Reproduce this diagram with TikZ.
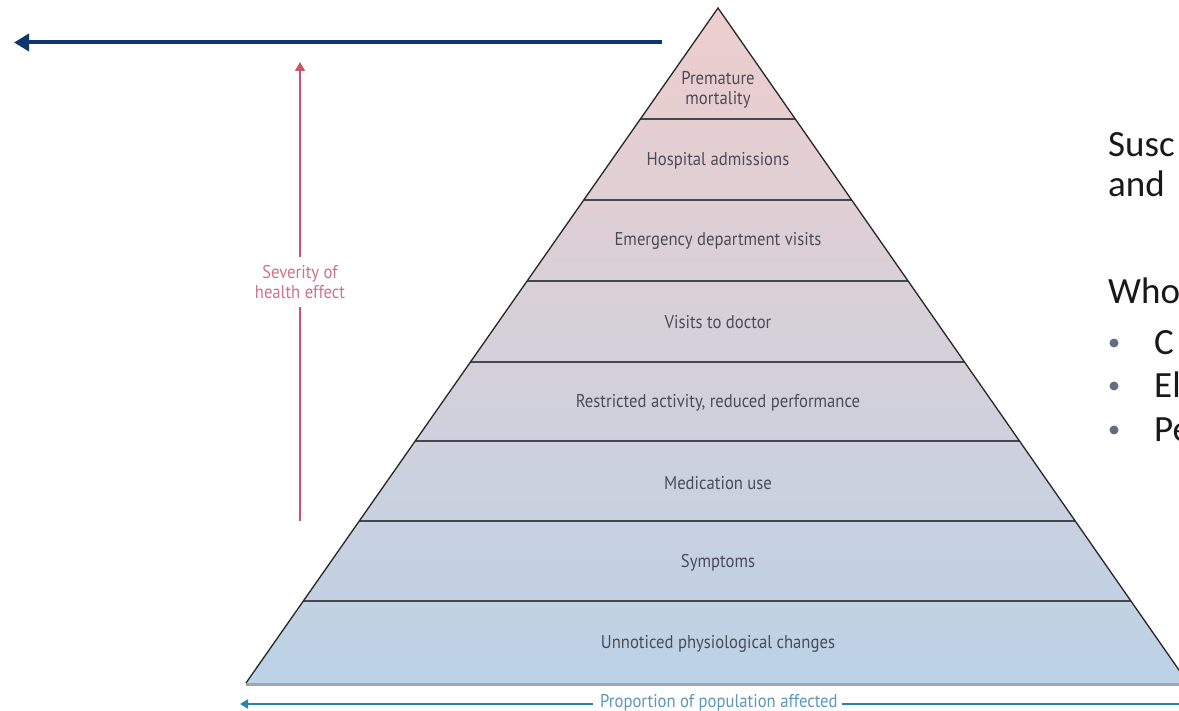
\documentclass[tikz,border=0pt]{standalone}
\usepackage{fontspec}
\setmainfont{Carlito}
\newfontfamily\dinfont[FakeStretch=0.9]{PT Sans}
\usetikzlibrary{arrows.meta,calc}
\definecolor{navyC}{RGB}{12,55,112}
\definecolor{sevC}{RGB}{200,85,105}
\definecolor{sevT}{RGB}{205,115,135}
\definecolor{propC}{RGB}{45,130,172}
\definecolor{propT}{RGB}{95,150,185}
\definecolor{pyrT}{RGB}{75,75,88}
\definecolor{topP}{RGB}{238,206,205}
\definecolor{midP}{RGB}{217,215,225}
\definecolor{botP}{RGB}{188,210,230}
\definecolor{bulC}{RGB}{100,110,130}
\definecolor{shadowC}{RGB}{165,165,172}
\definecolor{divC}{RGB}{70,70,78}
\definecolor{rtC}{RGB}{25,25,25}
\tikzset{
  lvl/.style={font=\dinfont\fontsize{18.5}{20}\selectfont, text=pyrT, align=center, inner sep=0pt},
  divider/.style={draw=divC, line width=2pt},
  edge/.style={draw=black!85, line width=1.3pt},
  rtext/.style={font=\fontsize{37}{40}\selectfont, text=rtC, anchor=base west, inner sep=0pt},
  navyarrow/.style={draw=navyC, line width=4pt, -{Triangle[length=15pt,width=17pt]}},
  sevarrow/.style={draw=sevC, line width=1.6pt, -{Triangle[length=9pt,width=10pt]}},
  sevline/.style={draw=sevC, line width=1.6pt},
  proparrow/.style={draw=propC, line width=2.6pt, -{Triangle[length=8pt,width=9pt]}},
  propline/.style={draw=propC, line width=2.6pt},
}
\begin{document}
\begin{tikzpicture}[x=1pt,y=-1pt]
\path[use as bounding box] (0,0) rectangle (1179,711);
\clip (0,0) rectangle (1179,711);
\fill[white] (0,0) rectangle (1179,711);

% pyramid
\coordinate (A) at (718,8);
\coordinate (BL) at (246,683);
\coordinate (BR) at (1188,683);
\shade[top color=topP, middle color=midP, bottom color=botP] (A) -- (BL) -- (BR) -- cycle;
\coordinate (BLs) at ($(BL)+(0,1.5)$);
\coordinate (BRs) at ($(BR)+(0,1.5)$);
\draw[shadowC, line width=3pt] (BLs) -- (BRs);
\foreach \t [count=\i] in {0.1644,0.2844,0.4044,0.5244,0.6415,0.7600,0.8785}{
  \coordinate (dl\i) at ($(A)!\t!(BL)$);
  \coordinate (dr\i) at ($(A)!\t!(BR)$);
  \draw[divider] (dl\i) -- (dr\i);
}
\draw[edge, line join=miter] (BL) -- (A) -- (BR);

% level labels
\node[lvl] (l1) at (718,90) {Premature\\mortality};
\node[lvl] (l2) at (718,161) {Hospital admissions};
\node[lvl] (l3) at (718,241) {Emergency department visits};
\node[lvl] (l4) at (718,322) {Visits to doctor};
\node[lvl] (l5) at (718,403) {Restricted activity, reduced performance};
\node[lvl] (l6) at (718,483) {Medication use};
\node[lvl] (l7) at (718,563) {Symptoms};
\node[lvl] (l8) at (718,644) {Unnoticed physiological changes};

% navy arrow
\coordinate (navyS) at (662,42.5);
\coordinate (navyE) at (14,42.5);
\draw[navyarrow] (navyS) -- (navyE);

% severity arrow
\node[font=\dinfont\fontsize{18.5}{20}\selectfont, text=sevT, align=center, inner sep=0pt] (sev) at (300,282) {Severity of\\health effect};
\coordinate (sevB) at (300,521);
\coordinate (sevM) at (300,307);
\coordinate (sevN) at (300,257);
\coordinate (sevTop) at (300,62);
\draw[sevline] (sevB) -- (sevM);
\draw[sevarrow] (sevN) -- (sevTop);

% proportion arrow
\node[font=\dinfont\fontsize{18.5}{20}\selectfont, text=propT, anchor=west, inner sep=0pt] (prop) at (600,703) {Proportion of population affected};
\coordinate (propL) at (240,704);
\coordinate (propR) at (1185,704);
\coordinate (pw) at ($(prop.west)+(-7,1)$);
\coordinate (pe) at ($(prop.east)+(4,1)$);
\draw[proparrow] (pw) -- (propL);
\draw[propline] (pe) -- (propR);

% right text
\node[rtext] (t1) at (1108,157) {Susc};
\node[rtext] (t2) at (1108,197) {and};
\node[rtext] (t3) at (1108,304) {Who};
\node[rtext] (t4) at (1154,355) {C};
\node[rtext] (t5) at (1154,398) {El};
\node[rtext] (t6) at (1154,442) {Pe};
\foreach \yy [count=\j] in {343,386,430}{
  \fill[bulC] (1114,\yy) circle (4.5pt) coordinate (b\j);
}
\end{tikzpicture}
\end{document}
